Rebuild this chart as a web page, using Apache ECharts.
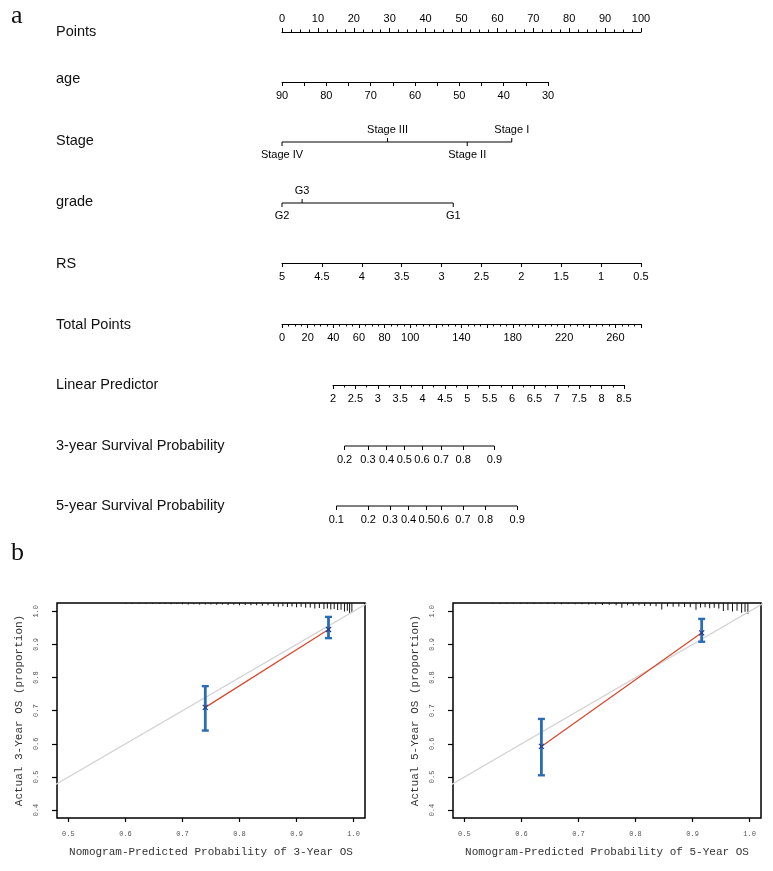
<!DOCTYPE html>
<html><head><meta charset="utf-8">
<script src="https://cdn.jsdelivr.net/npm/echarts@6/dist/echarts.min.js"></script>
<style>html,body{margin:0;padding:0;background:#fff}#c{width:773px;height:871px}</style>
</head><body><div id="c"></div>
<script>
// ---------------- data ----------------
const rowNames = ['Points','age','Stage','grade','RS','Total Points','Linear Predictor','3-year Survival Probability','5-year Survival Probability'];
const stageLevels = ['Stage IV','Stage III','Stage II','Stage I'];
const stagePoints = [0, 29.4, 51.6, 64.0];
const gradeLevels = ['G2','G3','G1'];
const gradePoints = [0, 5.6, 47.7];
const totalPointsLabels = [0,20,40,60,80,100,140,180,220,260];
const surv3Labels = ['0.2','0.3','0.4','0.5','0.6','0.7','0.8','0.9'];
const surv3LP = [2.259,2.781,3.196,3.592,3.987,4.417,4.908,5.607];
const surv5Labels = ['0.1','0.2','0.3','0.4','0.5','0.6','0.7','0.8','0.9'];
const surv5LP = [2.074,2.788,3.279,3.688,4.083,4.424,4.902,5.406,6.114];

const calTicksX = [0.5,0.6,0.7,0.8,0.9,1.0];
const calTicksY = [0.4,0.5,0.6,0.7,0.8,0.9,1.0];
const cal3Pred = [0.740, 0.956];
const cal3Obs  = [0.710, 0.945];
const cal3Lo   = [0.640, 0.919];
const cal3Hi   = [0.774, 0.983];
const cal5Pred = [0.635, 0.916];
const cal5Obs  = [0.592, 0.935];
const cal5Lo   = [0.505, 0.908];
const cal5Hi   = [0.675, 0.977];

const rug3Pos  = [0.600,0.612,0.624,0.636,0.648,0.660,0.670,0.680,0.690,0.700,0.710,0.720,0.730,0.740,0.750,0.760,0.770,0.780,0.790,0.800,0.810,0.820,0.830,0.840,0.850,0.860,0.868,0.876,0.884,0.892,0.900,0.908,0.916,0.924,0.932,0.940,0.948,0.954,0.960,0.966,0.972,0.978,0.984,0.989,0.993,0.997];
const rug3Freq = [0.06,0.06,0.08,0.06,0.08,0.10,0.10,0.12,0.10,0.12,0.14,0.12,0.14,0.15,0.14,0.16,0.15,0.18,0.16,0.20,0.18,0.22,0.20,0.25,0.22,0.28,0.35,0.30,0.38,0.33,0.40,0.36,0.45,0.42,0.50,0.46,0.55,0.50,0.60,0.56,0.66,0.62,0.80,0.72,0.95,0.85];
const rug5Pos  = [0.550,0.562,0.574,0.586,0.598,0.610,0.622,0.634,0.646,0.658,0.670,0.682,0.694,0.706,0.718,0.730,0.742,0.754,0.766,0.776,0.786,0.796,0.806,0.816,0.826,0.836,0.846,0.856,0.866,0.876,0.886,0.896,0.906,0.914,0.922,0.930,0.938,0.946,0.954,0.962,0.970,0.978,0.986,0.992,0.997];
const rug5Freq = [0.06,0.06,0.08,0.06,0.08,0.08,0.10,0.08,0.10,0.10,0.12,0.10,0.12,0.12,0.15,0.14,0.18,0.16,0.20,0.45,0.20,0.26,0.22,0.28,0.26,0.30,0.60,0.32,0.36,0.33,0.38,0.40,0.62,0.42,0.40,0.48,0.44,0.52,0.75,0.68,0.80,0.72,0.90,0.82,1.00];

// ---------------- layout / styles ----------------
const SANS = '"Liberation Sans", Arial, sans-serif';
const MONO = '"Liberation Mono", monospace';
const rowY = [32, 82, 142, 203, 263, 324, 385, 446, 506];
const nameY = [32, 79, 141, 202, 264, 325, 385, 446, 506];

const grids = [
  {left:282, width:359, top:rowY[0], height:1},
  {left:282, width:266, top:rowY[1]-1, height:1},
  {left:282, width:359, top:rowY[2]-1, height:1},
  {left:282, width:359, top:rowY[3]-1, height:1},
  {left:282, width:359, top:rowY[4]-1, height:1},
  {left:282, width:359, top:rowY[5]-1, height:1},
  {left:333, width:291, top:rowY[6]-1, height:1},
  {left:333, width:291, top:rowY[7]-1, height:1},
  {left:333, width:291, top:rowY[8]-1, height:1},
  {left:57, width:308, top:603, height:215, show:true, borderColor:'#000', borderWidth:1.5},
  {left:453, width:308, top:603, height:215, show:true, borderColor:'#000', borderWidth:1.5}
].map(g => Object.assign({outerBoundsMode:'none', containLabel:false}, g));

function nAxis(gi, o) {
  return Object.assign({
    type:'value', gridIndex:gi, position:'bottom',
    axisLine:{show:true, onZero:false, lineStyle:{color:'#000', width:1}},
    axisTick:{show:true, length:4, lineStyle:{color:'#000', width:1}},
    axisLabel:{show:true, fontSize:11, fontFamily:SANS, color:'#000', margin:8},
    splitLine:{show:false}
  }, o);
}
function hiddenAxis(gi, min, max) {
  return {type:'value', gridIndex:gi, min:min, max:max, show:false,
    axisLine:{show:false, onZero:false}, axisTick:{show:false}, axisLabel:{show:false}, splitLine:{show:false}};
}
function nearestLabel(vals, labels) {
  return function (v) {
    let bi = 0, bd = Infinity;
    vals.forEach((x, i) => { const d = Math.abs(x - v); if (d < bd) { bd = d; bi = i; } });
    return labels[bi];
  };
}

const xAxes = [
  nAxis(0, {position:'top', min:0, max:100, interval:10,
    minorTick:{show:true, splitNumber:4, length:2.5, lineStyle:{color:'#000'}}}),
  nAxis(1, {min:30, max:90, interval:5, inverse:true,
    axisLabel:{fontSize:11, fontFamily:SANS, color:'#000', margin:8, formatter: v => (v % 10 === 0 ? String(v) : '')}}),
  hiddenAxis(2, 0, 100),
  hiddenAxis(3, 0, 100),
  nAxis(4, {min:0.5, max:5, interval:0.5, inverse:true}),
  nAxis(5, {min:0, max:280, interval:20,
    minorTick:{show:true, splitNumber:4, length:2.5, lineStyle:{color:'#000'}},
    axisLabel:{fontSize:11, fontFamily:SANS, color:'#000', margin:8, formatter: v => (totalPointsLabels.indexOf(v) >= 0 ? String(v) : '')}}),
  nAxis(6, {min:2, max:8.5, interval:0.5,
    minorTick:{show:true, splitNumber:2, length:2.5, lineStyle:{color:'#000'}}}),
  nAxis(7, {min:2, max:8.5, axisLine:{show:false, onZero:false},
    axisTick:{show:true, length:4, customValues:surv3LP, lineStyle:{color:'#000'}},
    axisLabel:{fontSize:11, fontFamily:SANS, color:'#000', margin:8, customValues:surv3LP, formatter:nearestLabel(surv3LP, surv3Labels)}}),
  nAxis(8, {min:2, max:8.5, axisLine:{show:false, onZero:false},
    axisTick:{show:true, length:4, customValues:surv5LP, lineStyle:{color:'#000'}},
    axisLabel:{fontSize:11, fontFamily:SANS, color:'#000', margin:8, customValues:surv5LP, formatter:nearestLabel(surv5LP, surv5Labels)}})
];

function calX(gi, title) {
  return {type:'value', gridIndex:gi, min:0.48, max:1.02, position:'bottom',
    axisLine:{show:false, onZero:false},
    axisTick:{show:true, length:4, customValues:calTicksX, lineStyle:{color:'#000', width:1.2}},
    axisLabel:{customValues:calTicksX, fontSize:7, fontFamily:MONO, color:'#555', margin:13, formatter: v => v.toFixed(1)},
    splitLine:{show:false},
    name:title, nameLocation:'middle', nameGap:29,
    nameTextStyle:{fontFamily:MONO, fontSize:11, color:'#333'}};
}
function calY(gi, title) {
  return {type:'value', gridIndex:gi, min:0.376, max:1.025, position:'left',
    axisLine:{show:false, onZero:false},
    axisTick:{show:true, length:5, customValues:calTicksY, lineStyle:{color:'#000', width:1.2}},
    axisLabel:{customValues:calTicksY, rotate:90, fontSize:7, fontFamily:MONO, color:'#555', margin:17, formatter: v => v.toFixed(1)},
    splitLine:{show:false},
    name:title, nameLocation:'middle', nameGap:32, nameRotate:90,
    nameTextStyle:{fontFamily:MONO, fontSize:11, color:'#333'}};
}
xAxes.push(calX(9, 'Nomogram-Predicted Probability of 3-Year OS'));
xAxes.push(calX(10, 'Nomogram-Predicted Probability of 5-Year OS'));

const yAxes = [];
for (let i = 0; i < 9; i++) yAxes.push(hiddenAxis(i, 0, 1));
yAxes.push(calY(9, 'Actual 3-Year OS (proportion)'));           // 9
yAxes.push(Object.assign(hiddenAxis(9, 0, 20), {inverse:true}));   // 10
yAxes.push(calY(10, 'Actual 5-Year OS (proportion)'));          // 11
yAxes.push(Object.assign(hiddenAxis(10, 0, 20), {inverse:true}));  // 12

const aboveSet = ['Stage III', 'Stage I', 'G3'];
function catRender(levels) {
  return function (params, api) {
    const p = api.coord([api.value(0), 0]);
    const name = levels[params.dataIndex];
    const up = aboveSet.indexOf(name) >= 0;
    const d = up ? -1 : 1;
    return {type:'group', children:[
      {type:'line', shape:{x1:p[0], y1:p[1], x2:p[0], y2:p[1] + d * 4}, style:{stroke:'#000', lineWidth:1}},
      {type:'text', x:p[0], y:p[1] + d * 7, style:{text:name, align:'center', verticalAlign: up ? 'bottom' : 'top',
        fontSize:11, fontFamily:SANS, fill:'#000'}}
    ]};
  };
}
function segLine(xi, yi, a, b) {
  return {type:'line', xAxisIndex:xi, yAxisIndex:yi, data:[[a,0],[b,0]], symbol:'none', silent:true,
    lineStyle:{color:'#000', width:1}, clip:false, z:3};
}
function errRender(params, api) {
  const x = api.value(0), y = api.value(1), lo = api.value(2), hi = api.value(3);
  const t = api.coord([x, hi]), b = api.coord([x, lo]), m = api.coord([x, y]);
  const blue = '#2a6db4', dark = '#233f8e', cw = 3.5, mk = 2.5;
  return {type:'group', children:[
    {type:'line', shape:{x1:t[0], y1:t[1], x2:b[0], y2:b[1]}, style:{stroke:blue, lineWidth:2.8}},
    {type:'line', shape:{x1:t[0]-cw, y1:t[1], x2:t[0]+cw, y2:t[1]}, style:{stroke:blue, lineWidth:2.4}},
    {type:'line', shape:{x1:b[0]-cw, y1:b[1], x2:b[0]+cw, y2:b[1]}, style:{stroke:blue, lineWidth:2.4}},
    {type:'line', shape:{x1:m[0]-mk, y1:m[1]-mk, x2:m[0]+mk, y2:m[1]+mk}, style:{stroke:dark, lineWidth:1.2}},
    {type:'line', shape:{x1:m[0]-mk, y1:m[1]+mk, x2:m[0]+mk, y2:m[1]-mk}, style:{stroke:dark, lineWidth:1.2}}
  ]};
}
function calSeries(xi, yi, ryi, pred, obs, lo, hi, rugPos, rugFreq) {
  return [
    {type:'bar', xAxisIndex:xi, yAxisIndex:ryi, barWidth:1, silent:true,
      itemStyle:{color:'#111'}, data: rugPos.map((p, i) => [p, rugFreq[i]]), z:2},
    {type:'line', xAxisIndex:xi, yAxisIndex:yi, data:[[0.3,0.3],[1.1,1.1]], symbol:'none', silent:true,
      lineStyle:{color:'#d3d3d3', width:1.3}, z:3},
    {type:'line', xAxisIndex:xi, yAxisIndex:yi, data: pred.map((p, i) => [p, obs[i]]), symbol:'none', silent:true,
      lineStyle:{color:'#d8492e', width:1.3}, z:4},
    {type:'custom', xAxisIndex:xi, yAxisIndex:yi, renderItem:errRender, silent:true,
      data: pred.map((p, i) => [p, obs[i], lo[i], hi[i]]), z:5}
  ];
}

const series = [
  segLine(2, 2, stagePoints[0], stagePoints[stagePoints.length - 1]),
  {type:'custom', xAxisIndex:2, yAxisIndex:2, renderItem:catRender(stageLevels), data: stagePoints.map(p => [p, 0]), clip:false, silent:true},
  segLine(3, 3, gradePoints[0], gradePoints[gradePoints.length - 1]),
  {type:'custom', xAxisIndex:3, yAxisIndex:3, renderItem:catRender(gradeLevels), data: gradePoints.map(p => [p, 0]), clip:false, silent:true},
  segLine(7, 7, surv3LP[0], surv3LP[surv3LP.length - 1]),
  segLine(8, 8, surv5LP[0], surv5LP[surv5LP.length - 1])
].concat(
  calSeries(9, 9, 10, cal3Pred, cal3Obs, cal3Lo, cal3Hi, rug3Pos, rug3Freq),
  calSeries(10, 11, 12, cal5Pred, cal5Obs, cal5Lo, cal5Hi, rug5Pos, rug5Freq)
);

const graphic = rowNames.map((n, i) => ({type:'text', x:56, y:nameY[i],
  style:{text:n, fontSize:14.5, fontFamily:SANS, fill:'#111', verticalAlign:'middle', align:'left'}}));
graphic.push({type:'text', x:11, y:16, style:{text:'a', fontSize:26, fontFamily:'"Liberation Serif", serif', fill:'#111', verticalAlign:'middle'}});
graphic.push({type:'text', x:11, y:553, style:{text:'b', fontSize:26, fontFamily:'"Liberation Serif", serif', fill:'#111', verticalAlign:'middle'}});

const chart = echarts.init(document.getElementById('c'), null, {renderer:'canvas'});
chart.setOption({
  backgroundColor:'#fff',
  animation:false,
  grid:grids, xAxis:xAxes, yAxis:yAxes, series:series, graphic:graphic
});
</script></body></html>
